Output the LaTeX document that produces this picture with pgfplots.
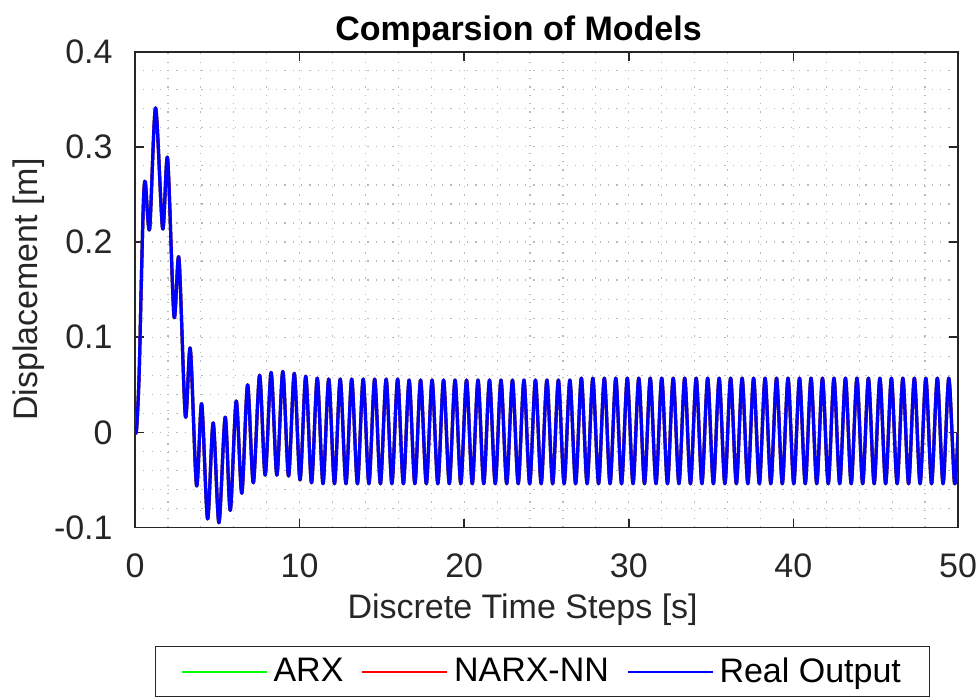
\documentclass[border=0pt]{standalone}
\usepackage{fontspec}
\setmainfont{Liberation Sans}
\usepackage{pgfplots}
\pgfplotsset{compat=1.18}
\usepackage{pgfplotstable}

\definecolor{axisgray}{RGB}{38,38,38}
\definecolor{gridgray}{RGB}{185,185,185}

% displacement response: turning points of the oscillation, time [s] vs displacement [m]
\pgfplotstableread{
t y
0 0
0.10 0.004
0.25 0.06
0.40 0.17
0.52 0.245
0.63 0.263
0.89 0.214
1.25 0.341
1.68 0.214
1.98 0.288
2.37 0.122
2.67 0.183
3.06 0.017
3.36 0.088
3.74 -0.056
4.05 0.030
4.41 -0.091
4.75 0.010
5.10 -0.095
5.48 0.016
5.79 -0.082
6.15 0.033
6.49 -0.064
6.84 0.050
7.19 -0.053
7.57 0.060
7.91 -0.045
8.27 0.063
8.62 -0.045
8.980 0.064
9.329 -0.046
9.678 0.062
10.027 -0.050
10.375 0.059
10.724 -0.053
11.073 0.057
11.422 -0.054
11.770 0.056
12.119 -0.054
12.468 0.056
12.817 -0.054
13.166 0.056
13.515 -0.054
13.863 0.056
14.212 -0.054
14.561 0.056
14.910 -0.054
15.258 0.056
15.607 -0.054
15.956 0.056
16.305 -0.054
16.654 0.055
17.003 -0.054
17.351 0.055
17.700 -0.054
18.049 0.055
18.398 -0.054
18.746 0.055
19.095 -0.054
19.444 0.055
19.793 -0.054
20.142 0.055
20.491 -0.054
20.839 0.055
21.188 -0.054
21.537 0.055
21.886 -0.054
22.234 0.055
22.583 -0.054
22.932 0.055
23.281 -0.054
23.630 0.055
23.979 -0.054
24.327 0.055
24.676 -0.054
25.025 0.055
25.374 -0.054
25.722 0.055
26.071 -0.054
26.420 0.055
26.769 -0.054
27.118 0.057
27.467 -0.054
27.815 0.057
28.164 -0.054
28.513 0.057
28.862 -0.054
29.210 0.057
29.559 -0.054
29.908 0.057
30.257 -0.054
30.606 0.057
30.955 -0.054
31.303 0.057
31.652 -0.054
32.001 0.057
32.350 -0.054
32.698 0.057
33.047 -0.054
33.396 0.057
33.745 -0.054
34.094 0.057
34.443 -0.054
34.791 0.057
35.140 -0.054
35.489 0.057
35.838 -0.054
36.186 0.057
36.535 -0.054
36.884 0.057
37.233 -0.054
37.582 0.057
37.931 -0.054
38.279 0.057
38.628 -0.054
38.977 0.057
39.326 -0.054
39.674 0.057
40.023 -0.054
40.372 0.057
40.721 -0.054
41.070 0.057
41.419 -0.054
41.767 0.057
42.116 -0.054
42.465 0.057
42.814 -0.054
43.162 0.057
43.511 -0.054
43.860 0.057
44.209 -0.054
44.558 0.057
44.907 -0.054
45.255 0.057
45.604 -0.054
45.953 0.057
46.302 -0.054
46.650 0.057
46.999 -0.054
47.348 0.057
47.697 -0.054
48.046 0.057
48.395 -0.054
48.743 0.057
49.092 -0.054
49.441 0.057
49.790 -0.054
50 0.000
}\response

\begin{document}
\begin{tikzpicture}
\begin{axis}[
  scale only axis,
  width=411.5pt, height=237.9pt,
  xmin=0, xmax=50, ymin=-0.1, ymax=0.4,
  xtick={0,10,20,30,40,50},
  xticklabels={0,10,20,30,40,50},
  ytick={-0.1,0,0.1,0.2,0.3,0.4},
  yticklabels={-0.1,0,0.1,0.2,0.3,0.4},
  minor x tick num=4, minor y tick num=4,
  grid=both,
  major grid style={gridgray, line width=0.6pt, dash pattern=on 0.6pt off 3.55pt},
  minor grid style={gridgray, line width=0.6pt, dash pattern=on 0.6pt off 3.55pt},
  tick align=inside,
  major tick length=4.5pt, minor tick length=0pt,
  axis line style={axisgray, line width=0.8pt},
  every tick/.style={axisgray, line width=0.8pt},
  tick label style={font=\fontsize{17}{20}\selectfont, text=axisgray},
  xticklabel style={anchor=base, yshift=-24.75pt},
  yticklabel style={anchor=east, inner sep=0pt, xshift=-11pt},
  xlabel={Discrete Time Steps [s]},
  ylabel={Displacement [m]},
  label style={font=\fontsize{17}{20}\selectfont, text=axisgray},
  xlabel style={at={(axis description cs:0.471,0)}, anchor=base, yshift=-45.25pt},
  ylabel style={at={(axis description cs:-0.1288,0.5)}, anchor=center},
  title={Comparsion of Models},
  title style={at={(axis description cs:0.466,1)}, anchor=base, yshift=-0.15pt,
    font=\fontsize{17}{20}\selectfont\bfseries},
  legend columns=3,
  legend image code/.code={\draw[#1, line width=1pt] (0pt,0pt) -- (42.5pt,0pt);},
  legend style={at={(0.4957,-0.2484)}, anchor=north,
    draw=axisgray, line width=0.5pt,
    font=\fontsize{17}{20}\selectfont,
    inner xsep=12.5pt, inner ysep=3.75pt,
    nodes={inner sep=2pt, text depth=0.15em},
    /tikz/every odd column/.append style={column sep=0.8pt},
    /tikz/every even column/.append style={column sep=7pt}},
]
\addplot[green, line width=1.6pt, line join=round, smooth] table[x=t, y=y] {\response};
\addlegendentry{ARX}
\addplot[red, line width=1.6pt, line join=round, smooth] table[x=t, y=y] {\response};
\addlegendentry{NARX-NN}
\addplot[blue, line width=1.6pt, line join=round, smooth] table[x=t, y=y] {\response};
\addlegendentry{Real Output}
\end{axis}
\pgfresetboundingbox
\path (-67.5pt,-85.25pt) rectangle (422pt,263.75pt);
\end{tikzpicture}
\end{document}
